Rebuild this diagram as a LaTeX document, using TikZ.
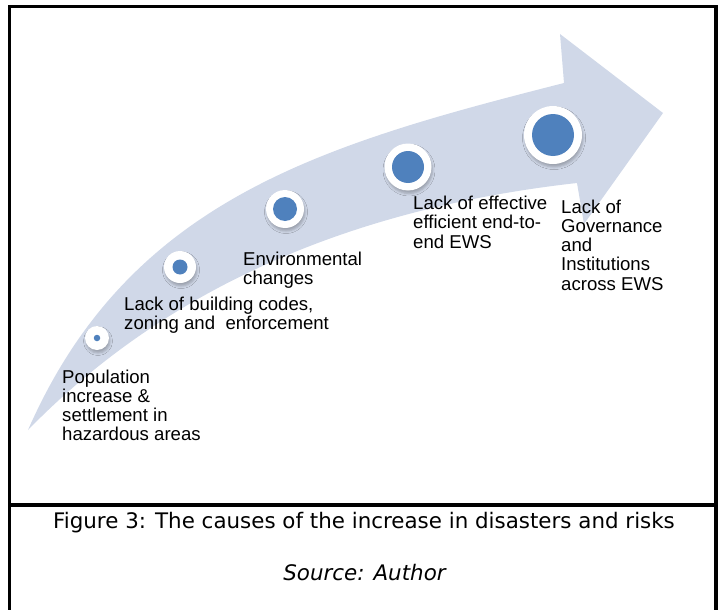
\documentclass[tikz,border=0pt]{standalone}
\usepackage{fontspec}
\usetikzlibrary{shadows.blur}
\newfontfamily\lblfont{Liberation Sans}
\newfontfamily\capfont{DejaVu Sans}
\definecolor{bandblue}{RGB}{208,216,232}
\definecolor{dotblue}{RGB}{79,129,189}
% left-aligned block whose baseline is that of its first line
\newcommand{\stack}[1]{\vtop{\halign{##\hfil\cr#1\crcr}}}
\tikzset{
  ring/.style={circle, fill=white, inner sep=0pt,
    blur shadow={shadow xshift=1pt, shadow yshift=-3pt,
      shadow blur radius=2.5pt, shadow opacity=25}},
  coredot/.style={circle, fill=dotblue, inner sep=0pt},
  lbl/.style={anchor=base west, inner sep=0pt,
    font=\lblfont\fontsize{18.6}{19.3}\selectfont},
  captext/.style={anchor=base, inner sep=0pt,
    font=\capfont\fontsize{21.4}{24}\selectfont},
  framerule/.style={line width=3.3pt}
}
\begin{document}
\begin{tikzpicture}[x=1pt, y=-1pt]
\useasboundingbox (0,0) rectangle (720,610);

% curved arrow band
\fill[bandblue] (28,430) .. controls (129,200) and (320,145) .. (564,83)
  -- (560,34) -- (663,113) -- (584,224) -- (577,183)
  .. controls (380,205) and (182,272) .. (28,430) -- cycle;

% stage markers
\node[ring, minimum size=24pt] (c1) at (97,338) {};
\node[coredot, minimum size=6.5pt] (d1) at (c1) {};
\node[ring, minimum size=32pt] (c2) at (180,267) {};
\node[coredot, minimum size=15pt] (d2) at (c2) {};
\node[ring, minimum size=38pt] (c3) at (285,209) {};
\node[coredot, minimum size=24pt] (d3) at (c3) {};
\node[ring, minimum size=47pt] (c4) at (408,167) {};
\node[coredot, minimum size=32pt] (d4) at (c4) {};
\node[ring, minimum size=58pt] (c5) at (553,135) {};
\node[coredot, minimum size=42pt] (d5) at (c5) {};

% stage labels
\node[lbl] (t1) at (62,383) {\stack{Population\cr increase \&\cr settlement in\cr hazardous areas}};
\node[lbl] (t2) at (124,310.5) {\stack{Lack of building codes,\cr zoning and\ \ enforcement}};
\node[lbl] (t3) at (243,265) {\stack{Environmental\cr changes}};
\node[lbl] (t4) at (413,209.5) {\stack{Lack of effective\cr efficient end-to-\cr end EWS}};
\node[lbl] (t5) at (561,213) {\stack{Lack of\cr Governance\cr and\cr Institutions\cr across EWS}};

% frame
\draw[framerule] (9.5,615) -- (9.5,6.5) -- (716,6.5) -- (716,615);
\draw[framerule] (9.5,505) -- (716,505);

% caption
\node[captext] (fig) at (364,528) {Figure 3: The causes of the increase in disasters and risks};
\node[captext] (src) at (364.5,580) {\itshape Source: Author};
\end{tikzpicture}
\end{document}
